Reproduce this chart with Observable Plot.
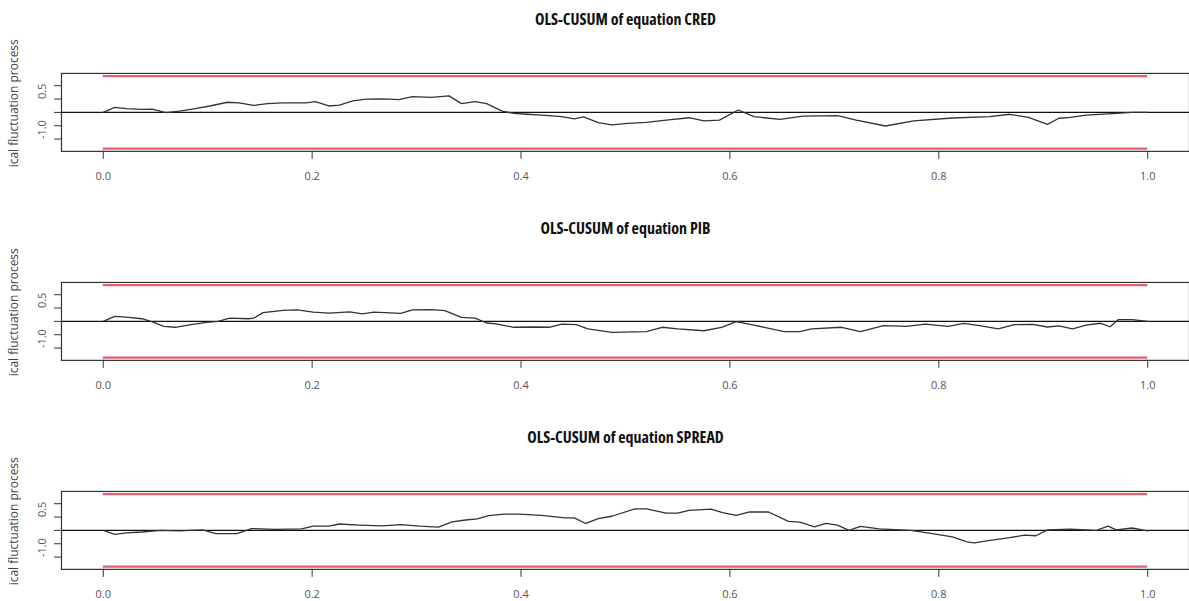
<!DOCTYPE html>
<html>
<head>
<meta charset="utf-8">
<script src="https://cdn.jsdelivr.net/npm/d3@7"></script>
<script src="https://cdn.jsdelivr.net/npm/@observablehq/plot@0.6"></script>
<style>
  html, body { margin: 0; padding: 0; background: #fff; overflow: hidden; width: 1189px; height: 601px; }
  #chart svg { display: block; }
  #chart svg .ttl text, #chart svg text.ttl { font-stretch: 75%; }
</style>
</head>
<body>
<div id="chart"></div>
<script>
// ---- Data ----
const titles = ["OLS-CUSUM of equation CRED", "OLS-CUSUM of equation PIB", "OLS-CUSUM of equation SPREAD"];
const yAxisLabel = "ical fluctuation process";
const xTicks = [0, 0.2, 0.4, 0.6, 0.8, 1.0];
const yTicks = [-1.0, -0.5, 0, 0.5, 1.0];
const yTickLabels = [0.5, -1.0];
const boundary = 1.358;

const credX = [0,0.011,0.022,0.037,0.047,0.06,0.073,0.088,0.102,0.119,0.13,0.144,0.157,0.172,0.194,0.203,0.216,0.226,0.239,0.252,0.267,0.283,0.296,0.314,0.331,0.343,0.356,0.367,0.382,0.393,0.406,0.42,0.439,0.451,0.46,0.474,0.487,0.502,0.52,0.539,0.561,0.575,0.59,0.608,0.623,0.648,0.67,0.703,0.721,0.749,0.776,0.813,0.849,0.868,0.886,0.904,0.915,0.926,0.941,0.97,0.985,1.0];
const credY = [0,0.19,0.14,0.11,0.12,-0.01,0.05,0.14,0.24,0.38,0.36,0.26,0.33,0.36,0.36,0.40,0.24,0.27,0.43,0.50,0.51,0.48,0.59,0.56,0.62,0.33,0.40,0.33,0.05,-0.04,-0.07,-0.10,-0.16,-0.24,-0.17,-0.38,-0.47,-0.41,-0.37,-0.29,-0.20,-0.32,-0.29,0.09,-0.16,-0.26,-0.14,-0.12,-0.29,-0.51,-0.32,-0.21,-0.16,-0.07,-0.19,-0.45,-0.22,-0.19,-0.10,-0.04,0.0,0.0];

const pibX = [0,0.011,0.022,0.037,0.047,0.058,0.069,0.084,0.099,0.11,0.121,0.139,0.144,0.153,0.172,0.186,0.201,0.216,0.236,0.248,0.259,0.285,0.296,0.314,0.327,0.343,0.356,0.367,0.376,0.393,0.413,0.427,0.439,0.453,0.464,0.487,0.52,0.535,0.55,0.575,0.592,0.606,0.623,0.652,0.667,0.678,0.707,0.725,0.747,0.769,0.787,0.809,0.824,0.839,0.857,0.872,0.89,0.904,0.915,0.928,0.941,0.955,0.964,0.972,0.985,1.0];
const pibY = [0,0.19,0.16,0.10,-0.02,-0.19,-0.22,-0.12,-0.04,0,0.12,0.10,0.12,0.33,0.41,0.43,0.35,0.31,0.36,0.28,0.35,0.30,0.43,0.44,0.40,0.15,0.12,-0.06,-0.09,-0.22,-0.21,-0.22,-0.10,-0.12,-0.28,-0.41,-0.38,-0.22,-0.28,-0.35,-0.22,-0.01,-0.14,-0.38,-0.38,-0.28,-0.22,-0.38,-0.16,-0.19,-0.10,-0.19,-0.07,-0.16,-0.28,-0.12,-0.11,-0.21,-0.17,-0.28,-0.14,-0.07,-0.20,0.07,0.07,0];

const spreadX = [0,0.011,0.022,0.037,0.055,0.073,0.095,0.108,0.128,0.142,0.164,0.19,0.201,0.216,0.226,0.245,0.267,0.285,0.303,0.321,0.334,0.347,0.358,0.369,0.384,0.398,0.42,0.442,0.451,0.462,0.474,0.487,0.509,0.52,0.539,0.55,0.561,0.582,0.593,0.606,0.619,0.637,0.656,0.667,0.681,0.692,0.703,0.714,0.725,0.743,0.773,0.794,0.813,0.827,0.834,0.849,0.868,0.882,0.893,0.904,0.926,0.951,0.962,0.97,0.985,1.0];
const spreadY = [0,-0.15,-0.09,-0.06,0,-0.02,0.02,-0.12,-0.12,0.07,0.04,0.06,0.16,0.16,0.24,0.20,0.17,0.22,0.16,0.12,0.32,0.39,0.43,0.55,0.61,0.61,0.56,0.47,0.47,0.26,0.44,0.53,0.81,0.81,0.65,0.65,0.75,0.80,0.67,0.56,0.69,0.69,0.34,0.31,0.13,0.26,0.20,0,0.15,0.06,0,-0.12,-0.24,-0.43,-0.47,-0.37,-0.27,-0.18,-0.20,0.02,0.05,0,0.16,0.02,0.09,-0.02];

const seriesX = [credX, pibX, spreadX];
const seriesY = [credY, pibY, spreadY];

// ---- Drawing ----
const fmt = d => d.toFixed(1);
const chart = document.getElementById("chart");

titles.forEach((title, i) => {
  const data = seriesX[i].map((x, j) => ({x, y: seriesY[i][j]}));
  const plot = Plot.plot({
    width: 1190,
    height: 209,
    marginTop: 73,
    marginBottom: 58,
    marginLeft: 61,
    marginRight: 0,
    style: {fontFamily: "'Open Sans', sans-serif", fontSize: "11px", color: "#333", background: "transparent", overflow: "visible"},
    x: {domain: [-0.04, 1.04]},
    y: {domain: [-1.46, 1.46]},
    marks: [
      Plot.ruleY([boundary, -boundary], {x1: 0, x2: 1, stroke: "#E2606F", strokeWidth: 2.4}),
      Plot.ruleY([0], {stroke: "#111", strokeWidth: 1.2}),
      Plot.line(data, {x: "x", y: "y", stroke: "#333", strokeWidth: 1.3}),
      Plot.frame({stroke: "#333", strokeWidth: 1.2}),
      Plot.axisX({ticks: xTicks, tickSize: 8, tickPadding: 13, tickFormat: fmt, label: null, stroke: "#333", fill: "#555", fontSize: 11}),
      Plot.axisY({ticks: yTicks, tickSize: 7, tickFormat: () => "", label: null, stroke: "#333"}),
      Plot.text(yTickLabels, {y: d => d, text: d => fmt(d), frameAnchor: "left", dx: -19, rotate: -90, fill: "#555", fontSize: 11}),
      Plot.text([title], {frameAnchor: "top", dy: -60, fontWeight: "bold", fontSize: 16, fill: "#111", className: "ttl"}),
      Plot.text([yAxisLabel], {frameAnchor: "bottom-left", dx: -44, dy: 16, rotate: -90, textAnchor: "start", fontSize: 12, fill: "#444"})
    ]
  });
  chart.appendChild(plot);
});
</script>
</body>
</html>
